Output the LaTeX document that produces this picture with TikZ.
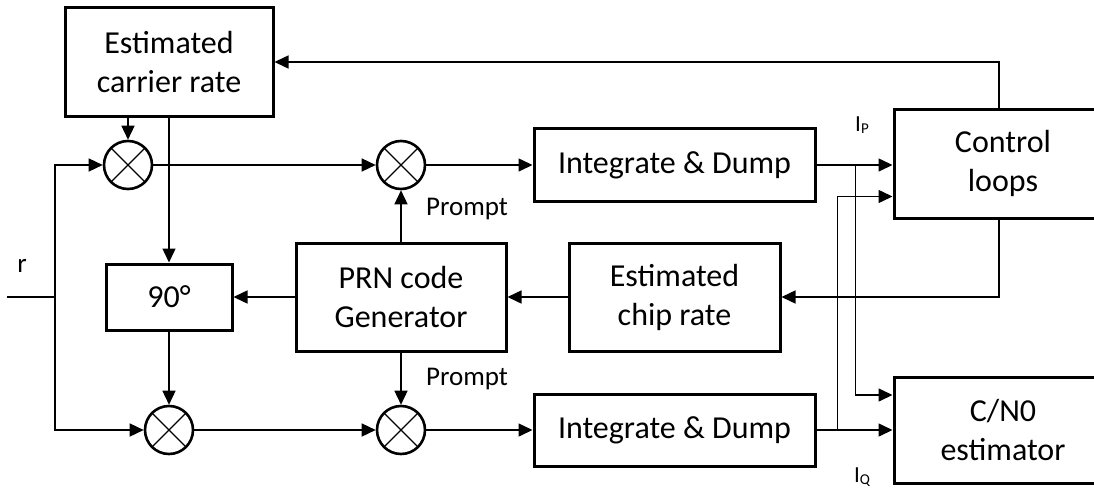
\documentclass[tikz,border=0pt]{standalone}
\usepackage{fontspec}
\setmainfont{Carlito}
\usetikzlibrary{arrows.meta}
\begin{document}
\begin{tikzpicture}[x=1pt,y=-1pt,
  block/.style={draw, line width=3pt, align=center, inner sep=0pt,
    font=\fontsize{32}{39}\selectfont},
  mixer/.style={circle, draw, line width=2.6pt, minimum size=48pt, inner sep=0pt,
    path picture={\draw[line width=1.1pt]
      (path picture bounding box.south west) -- (path picture bounding box.north east)
      (path picture bounding box.north west) -- (path picture bounding box.south east);}},
  wire/.style={line width=1.5pt},
  arr/.style={wire, -{Triangle[length=14pt,width=13pt]}},
  lbl/.style={inner sep=0pt, font=\fontsize{27}{30}\selectfont}]
\useasboundingbox (0,0) rectangle (1094,487);
\clip (0,0) rectangle (1094,487);

% blocks
\node[block, minimum width=208pt, minimum height=108pt] (car) at (169,62) {Estimated\\carrier rate};
\node[block, minimum width=126pt, minimum height=66pt] (ph) at (169,297) {90°};
\node[block, minimum width=210pt, minimum height=108pt] (prn) at (401,297) {PRN code\\Generator};
\node[block, minimum width=211pt, minimum height=108pt] (chip) at (674.5,297) {Estimated\\chip rate};
\node[block, minimum width=281pt, minimum height=73pt] (id1) at (674.5,165) {Integrate \& Dump};
\node[block, minimum width=281pt, minimum height=72pt] (id2) at (674.5,430) {Integrate \& Dump};
\node[block, minimum width=218pt, minimum height=109pt] (ctl) at (1003,163.5) {Control\\loops};
\node[block, minimum width=218pt, minimum height=106pt] (cn0) at (1003,430) {C/N0\\estimator};

% mixers
\node[mixer] (m1) at (128,165) {};
\node[mixer] (m2) at (401,165) {};
\node[mixer] (m3) at (169,430) {};
\node[mixer] (m4) at (401,430) {};

% labels
\node[lbl] (rlab) at (22,266) {r};
\node[lbl] (pr1) at (467,209) {Prompt};
\node[lbl] (pr2) at (467,379) {Prompt};
\node[inner sep=0pt] (ip) at (862,125) {\fontsize{23}{26}\selectfont I\raisebox{-1.5pt}{\fontsize{15}{16}\selectfont P}};
\node[inner sep=0pt] (iq) at (862,477) {\fontsize{23}{26}\selectfont I\raisebox{-1.5pt}{\fontsize{15}{16}\selectfont Q}};

% input and splitting
\coordinate (rin) at (7,297);
\coordinate (split) at (55,297);
\draw[wire] (rin) -- (split);
\draw[arr] (split) |- (m1.west);
\draw[arr] (split) |- (m3.west);

% carrier path
\draw[arr] (car.south -| m1.north) -- (m1.north);
\draw[arr] (car.south) -- (ph.north);
\draw[arr] (ph.south) -- (m3.north);
\draw[arr] (m1.east) -- (m2.west);
\draw[arr] (m3.east) -- (m4.west);

% code path
\draw[arr] (prn.north) -- (m2.south);
\draw[arr] (prn.south) -- (m4.north);
\draw[arr] (prn.west) -- (ph.east);
\draw[arr] (chip.west) -- (prn.east);
\draw[arr] (m2.east) -- (id1.west);
\draw[arr] (m4.east) -- (id2.west);

% outputs
\path (id1.east) ++(39,0) coordinate (tapP);
\path (id2.east) ++(21,0) coordinate (tapQ);
\draw[arr] (id1.east) -- (ctl.west |- id1.east);
\draw[arr] (id2.east) -- (cn0.west);
\draw[arr] (tapP) |- ([yshift=35pt]cn0.west);
\draw[arr] (tapQ) |- ([yshift=-33pt]ctl.west);

% feedback
\coordinate (fbt) at ([xshift=-4pt]ctl.north);
\coordinate (fbb) at ([xshift=-4pt]ctl.south);
\draw[arr] (fbt) |- (car.east);
\draw[arr] (fbb) |- (chip.east);
\end{tikzpicture}
\end{document}
